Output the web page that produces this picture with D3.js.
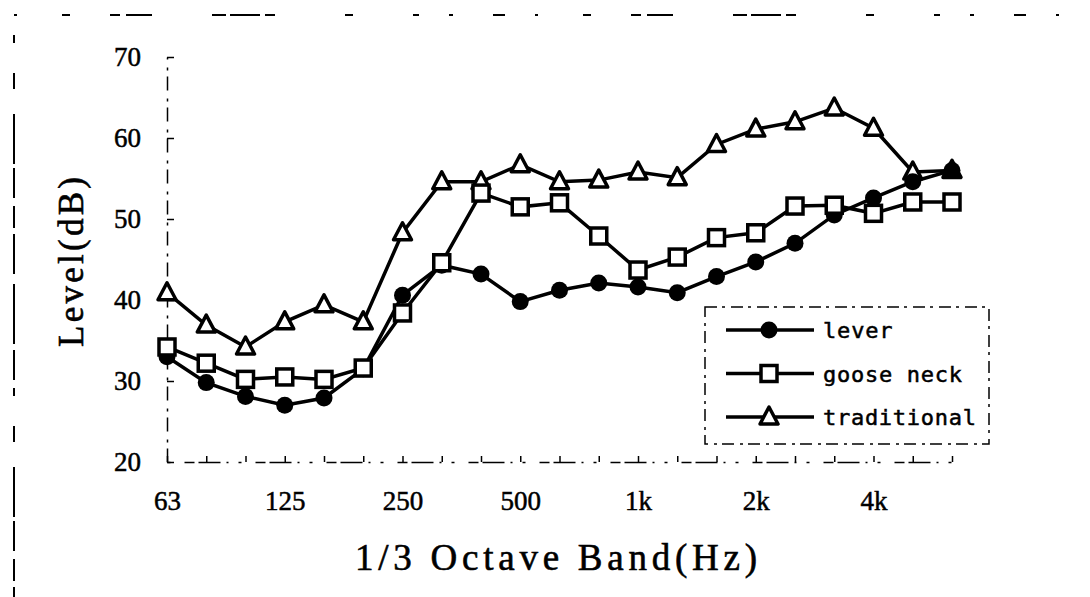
<!DOCTYPE html>
<html>
<head>
<meta charset="utf-8">
<script src="https://cdn.jsdelivr.net/npm/d3@7"></script>
<style>
  body { margin: 0; background: #fff; }
  svg { display: block; }
</style>
</head>
<body>
<div id="chart"></div>
<script>
// 1/3 octave bands and the three measured series (dB)
const bands = ["63", "80", "100", "125", "160", "200", "250", "315", "400", "500", "630",
  "800", "1k", "1.25k", "1.6k", "2k", "2.5k", "3.15k", "4k", "5k", "6.3k"];
const tickBands = ["63", "125", "250", "500", "1k", "2k", "4k"];
const yTicks = [20, 30, 40, 50, 60, 70];

const lever = [33.0, 29.8, 28.1, 27.0, 27.9, 31.5, 40.6, 44.3, 43.2, 39.8, 41.2,
  42.1, 41.6, 40.9, 42.9, 44.7, 47.0, 50.5, 52.6, 54.6, 56.0];
const gooseNeck = [34.2, 32.2, 30.2, 30.5, 30.2, 31.6, 38.4, 44.6, 53.2, 51.5, 52.0,
  47.9, 43.7, 45.3, 47.7, 48.3, 51.6, 51.7, 50.7, 52.1, 52.1];
const traditional = [40.9, 36.9, 34.2, 37.3, 39.4, 37.3, 48.3, 54.6, 54.6, 56.7, 54.6,
  54.8, 55.8, 55.1, 59.2, 61.1, 62.0, 63.7, 61.2, 55.8, 56.0];

const seriesNames = ["lever", "goose neck", "traditional"];
const seriesMarks = ["circle", "square", "triangle"];

const WIDTH = 1090;
const HEIGHT = 597;

const svg = d3.select("#chart")
  .append("svg")
  .attr("width", WIDTH)
  .attr("height", HEIGHT)

svg.append("rect").attr("width", WIDTH).attr("height", HEIGHT).attr("fill", "#fff")

const x = d3.scalePoint().domain(bands).range([167, 952])
const y = d3.scaleLinear().domain([20, 70]).range([462, 57])

// marco escaneado (punteado)
svg.append("line")
  .attr("x1", 14).attr("x2", 1090).attr("y1", 15).attr("y2", 15)
  .attr("stroke", "#000").attr("stroke-width", 2)
  .attr("stroke-dasharray", "3,45,8,40,10,6,26,60,14,4,30,5,10,70,8,60,6,30,4,40,12,30")
svg.append("line")
  .attr("x1", 14).attr("x2", 14).attr("y1", 35).attr("y2", 597)
  .attr("stroke", "#000").attr("stroke-width", 2)
  .attr("stroke-dasharray", "8,30,16,25,50,4,30,8,22,6,40,10,60,6,30,8")

// eje Y
const yAxis = svg.append("g")
  .attr("transform", `translate(${x(bands[0])},0)`)
  .call(d3.axisLeft(y).tickValues(yTicks).tickSizeInner(-7).tickSizeOuter(0).tickPadding(26))
yAxis.select(".domain").attr("stroke-width", 1.5).attr("stroke-dasharray", "14,6,3,8")
yAxis.selectAll(".tick line").attr("stroke-width", 1.5)
yAxis.selectAll("text")
  .attr("font-family", "Liberation Serif, serif")
  .attr("font-size", 27)
  .attr("fill", "#000")
  .attr("stroke", "#000").attr("stroke-width", 0.5)

// eje X
const xAxis = svg.append("g")
  .attr("transform", `translate(0,${y(20)})`)
  .call(d3.axisBottom(x).tickSizeInner(-6).tickSizeOuter(0).tickPadding(29)
    .tickFormat(d => tickBands.includes(d) ? d : ""))
xAxis.select(".domain").attr("stroke-width", 1.5).attr("stroke-dasharray", "3,14,10,4,22,6,2,10")
xAxis.selectAll(".tick line").attr("stroke-width", 1.5)
xAxis.selectAll("text")
  .attr("font-family", "Liberation Serif, serif")
  .attr("font-size", 27)
  .attr("fill", "#000")
  .attr("stroke", "#000").attr("stroke-width", 0.5)

// titulos de ejes
svg.append("text")
  .attr("x", 355).attr("y", 570)
  .attr("textLength", 402).attr("lengthAdjust", "spacing")
  .attr("font-family", "Liberation Serif, serif")
  .attr("font-size", 37)
  .attr("stroke", "#000").attr("stroke-width", 0.6)
  .text("1/3 Octave Band(Hz)")

svg.append("text")
  .attr("transform", "translate(83,347) rotate(-90)")
  .attr("textLength", 170).attr("lengthAdjust", "spacing")
  .attr("font-family", "Liberation Serif, serif")
  .attr("font-size", 35)
  .attr("stroke", "#000").attr("stroke-width", 0.6)
  .text("Level(dB)")

// marcadores
function drawMark(g, kind) {
  if (kind == "circle") {
    g.append("circle").attr("r", 8.5).attr("fill", "#000")
  } else if (kind == "square") {
    g.append("rect").attr("x", -8).attr("y", -8).attr("width", 16).attr("height", 16)
      .attr("fill", "#fff").attr("stroke", "#000").attr("stroke-width", 3.5)
  } else {
    g.append("path").attr("d", "M0,-10L9,7L-9,7Z")
      .attr("fill", "#fff").attr("stroke", "#000").attr("stroke-width", 3.5)
      .attr("stroke-linejoin", "round")
  }
}

const line = d3.line().x((d, i) => x(bands[i])).y(d => y(d))

// orden de dibujo: traditional, lever, goose neck
const order = [
  { values: traditional, mark: "triangle" },
  { values: lever, mark: "circle" },
  { values: gooseNeck, mark: "square" },
]

order.forEach(s => {
  svg.append("path")
    .datum(s.values)
    .attr("d", line)
    .attr("fill", "none")
    .attr("stroke", "#000")
    .attr("stroke-width", 3.5)
})

order.forEach(s => {
  svg.append("g")
    .selectAll("g")
    .data(s.values)
    .join("g")
    .attr("transform", (d, i) => `translate(${x(bands[i])},${y(d)})`)
    .each(function () { drawMark(d3.select(this), s.mark) })
})

// leyenda
const legend = svg.append("g")
legend.append("rect")
  .attr("x", 705).attr("y", 307).attr("width", 284).attr("height", 137)
  .attr("fill", "#fff").attr("stroke", "#000").attr("stroke-width", 1.5)
  .attr("stroke-dasharray", "12,5,3,6")

const legendY = d3.scalePoint().domain(seriesNames).range([330, 417])

seriesNames.forEach((name, i) => {
  const ly = legendY(name)
  legend.append("line")
    .attr("x1", 726).attr("x2", 814).attr("y1", ly).attr("y2", ly)
    .attr("stroke", "#000").attr("stroke-width", 3.5)
  const g = legend.append("g").attr("transform", `translate(769,${ly})`)
  drawMark(g, seriesMarks[i])
  legend.append("text")
    .attr("x", 823).attr("y", ly + 8)
    .attr("textLength", name.length * 13.9).attr("lengthAdjust", "spacing")
    .attr("font-family", "DejaVu Sans Mono, monospace")
    .attr("font-size", 22)
    .attr("stroke", "#000").attr("stroke-width", 0.5)
    .text(name)
})
</script>
</body>
</html>
